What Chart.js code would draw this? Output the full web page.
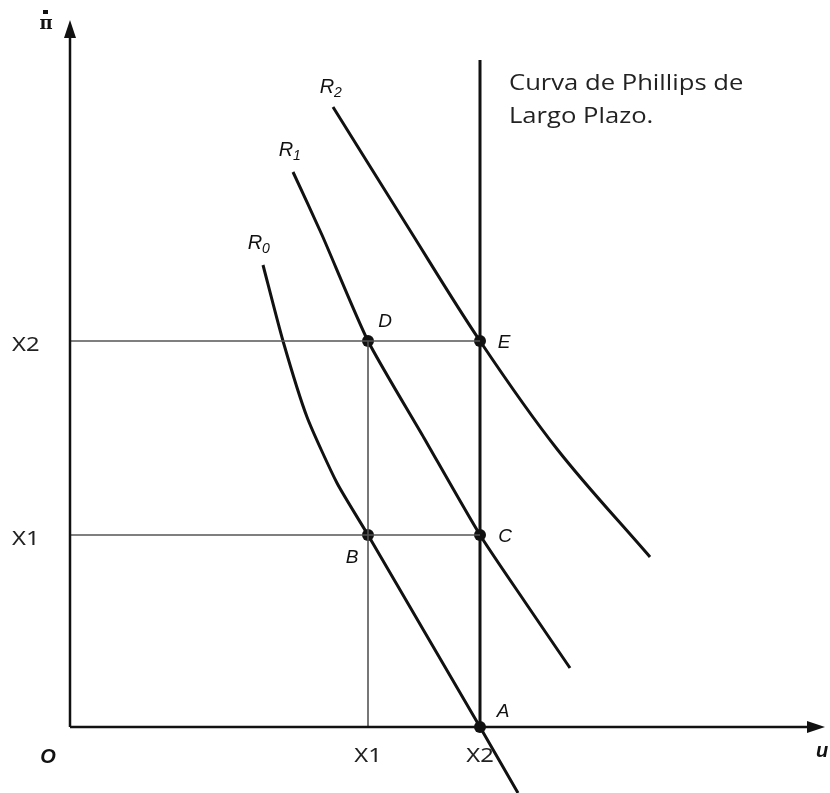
<!DOCTYPE html>
<html>
<head>
<meta charset="utf-8">
<script src="https://cdn.jsdelivr.net/npm/chart.js@4.4.1/dist/chart.umd.min.js"></script>
<style>
html,body{margin:0;padding:0;background:#fff;}
#wrap{width:830px;height:793px;}
</style>
</head>
<body>
<div id="wrap"><canvas id="c" width="830" height="793"></canvas></div>
<script>
// Values (u on horizontal axis, inflation rate on vertical axis)
const uLevels = [298, 410];          // X1, X2 on the u axis
const inflLevels = [192, 386];       // X1, X2 on the inflation axis
const uLabels = ['X1', 'X2'];
const inflLabels = ['X1', 'X2'];
const r0U = [193, 213, 237, 267, 298, 354, 410, 448];
const r0P = [462, 386, 310, 244, 192, 96, 0, -66];
const r1U = [223, 252, 298, 354, 410, 455, 500];
const r1P = [555, 492, 386, 289, 192, 125, 59];
const r2U = [263, 336, 410, 487, 580];
const r2P = [620, 503, 386, 278, 170];
const lrpcTop = 667;
const axisUMax = 755, axisPMax = 707;
const pointNames = ['A', 'B', 'C', 'D', 'E'];
const pointU = [410, 298, 410, 298, 410];
const pointP = [0, 192, 192, 386, 386];

const pts = (xs, ys) => xs.map((x, i) => ({x, y: ys[i]}));
const black = '#111';
const guide = '#555';

const datasets = [
  {data: [{x:0,y:0},{x:axisUMax-10,y:0}], borderColor: black, borderWidth: 2.5},
  {data: [{x:0,y:0},{x:0,y:axisPMax-12}], borderColor: black, borderWidth: 2.5},
  {data: [{x:0,y:inflLevels[1]},{x:uLevels[1],y:inflLevels[1]}], borderColor: guide, borderWidth: 1.6},
  {data: [{x:0,y:inflLevels[0]},{x:uLevels[1],y:inflLevels[0]}], borderColor: guide, borderWidth: 1.6},
  {data: [{x:uLevels[0],y:0},{x:uLevels[0],y:inflLevels[1]}], borderColor: guide, borderWidth: 1.6},
  {data: [{x:uLevels[1],y:0},{x:uLevels[1],y:lrpcTop}], borderColor: black, borderWidth: 3},
  {data: pts(r0U, r0P), borderColor: black, borderWidth: 3, tension: 0.2},
  {data: pts(r1U, r1P), borderColor: black, borderWidth: 3, tension: 0.2},
  {data: pts(r2U, r2P), borderColor: black, borderWidth: 3, tension: 0.35},
  {data: pts(pointU, pointP), showLine: false, pointRadius: 6, pointBackgroundColor: black, pointBorderColor: black, borderWidth: 0}
].map(d => Object.assign({showLine: true, pointRadius: 0, fill: false}, d));

const labelsPlugin = {
  id: 'labels',
  afterDatasetsDraw(chart) {
    const {ctx, scales: {x, y}} = chart;
    const X = v => x.getPixelForValue(v), Y = v => y.getPixelForValue(v);
    ctx.save();
    ctx.fillStyle = black;
    // arrowheads
    const tri = (a, b, c) => { ctx.beginPath(); ctx.moveTo(...a); ctx.lineTo(...b); ctx.lineTo(...c); ctx.closePath(); ctx.fill(); };
    const ox = X(0), oy = Y(0);
    const ty = Y(axisPMax);
    tri([ox, ty], [ox - 6, ty + 18], [ox + 6, ty + 18]);
    const tx = X(axisUMax);
    tri([tx, oy], [tx - 18, oy - 6], [tx - 18, oy + 6]);

    const wide = (txt, px, py, sx, align) => {
      ctx.save();
      ctx.translate(px, py);
      ctx.scale(sx, 1);
      ctx.textAlign = align;
      ctx.fillText(txt, 0, 0);
      ctx.restore();
    };

    // tick-like labels
    ctx.font = '19px "Noto Sans", sans-serif';
    ctx.textBaseline = 'middle';
    ctx.fillStyle = '#222';
    uLevels.forEach((u, i) => wide(uLabels[i], X(u), oy + 30, 1.25, 'center'));
    inflLevels.forEach((p, i) => wide(inflLabels[i], 12, Y(p) + 5, 1.25, 'left'));
    ctx.fillStyle = black;

    // axis names
    ctx.font = 'italic bold 20px "Liberation Sans", sans-serif';
    ctx.textAlign = 'center';
    ctx.fillText('O', ox - 22, oy + 30);
    ctx.fillText('u', X(axisUMax) - 3, oy + 24);
    ctx.font = 'bold 18px "DejaVu Serif", serif';
    ctx.fillText('\u03C0', 46, 24);
    ctx.fillRect(43, 10, 5, 4);

    // point names
    ctx.font = 'italic 19px "Liberation Sans", sans-serif';
    const off = {A: [23, -15], B: [-16, 23], C: [25, 2], D: [17, -19], E: [24, 2]};
    pointNames.forEach((n, i) => {
      const o = off[n];
      ctx.fillText(n, X(pointU[i]) + o[0], Y(pointP[i]) + o[1]);
    });

    // curve names
    const curveLab = [['0', r0U[0], r0P[0], -8, -22], ['1', r1U[0], r1P[0], -7, -22], ['2', r2U[0], r2P[0], -6, -20]];
    curveLab.forEach(([s, u, p, dx, dy]) => {
      const px = X(u) + dx, py = Y(p) + dy;
      ctx.font = 'italic 20px "Liberation Sans", sans-serif';
      ctx.textAlign = 'center';
      ctx.fillText('R', px, py);
      ctx.font = 'italic 14px "Liberation Sans", sans-serif';
      ctx.textAlign = 'left';
      ctx.fillText(s, px + 7, py + 6);
    });

    // LRPC caption
    ctx.font = '21px "Open Sans", sans-serif';
    ctx.fillStyle = '#222';
    wide('Curva de Phillips de', 509, 84, 1.22, 'left');
    wide('Largo Plazo.', 509, 117, 1.22, 'left');
    ctx.restore();
  }
};

new Chart(document.getElementById('c'), {
  type: 'scatter',
  data: {datasets},
  options: {
    responsive: false,
    animation: false,
    layout: {padding: 0, autoPadding: false},
    plugins: {legend: {display: false}, tooltip: {enabled: false}},
    scales: {
      x: {type: 'linear', display: false, min: -70, max: 760},
      y: {type: 'linear', display: false, min: -66, max: 727}
    }
  },
  plugins: [labelsPlugin]
});
</script>
</body>
</html>
